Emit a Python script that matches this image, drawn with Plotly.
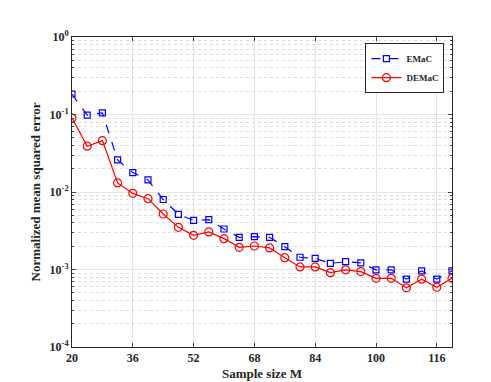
import plotly.graph_objects as go

# Sample sizes and errors
sample_size = list(range(20, 121, 4))
emac = [0.184, 0.098, 0.105, 0.0259, 0.0178, 0.0143, 0.0080, 0.00515, 0.0043, 0.0044,
        0.00333, 0.0026, 0.00265, 0.0026, 0.00197, 0.00144, 0.00139, 0.0012, 0.00126,
        0.00122, 0.00099, 0.00099, 0.00075, 0.00096, 0.00075, 0.00096]
demac = [0.090, 0.039, 0.046, 0.0131, 0.0096, 0.0082, 0.0052, 0.0035, 0.00276, 0.00305,
         0.0025, 0.00193, 0.00201, 0.0019, 0.00142, 0.00108, 0.00108, 0.00091, 0.00099,
         0.00094, 0.00077, 0.00077, 0.00058, 0.00075, 0.00059, 0.00077]
x_ticks = [20, 36, 52, 68, 84, 100, 116]
y_ticks = [1e-4, 1e-3, 1e-2, 1e-1, 1e0]
y_ticktext = ['10<sup>-4</sup>', '10<sup>-3</sup>', '10<sup>-2</sup>', '10<sup>-1</sup>', '10<sup>0</sup>']

serif = 'Liberation Serif, Times New Roman, serif'
ink = '#262626'

fig = go.Figure()
fig.add_trace(go.Scatter(x=sample_size, y=emac, name='EMaC', mode='lines+markers',
                         line=dict(color='#0000ff', width=1.2, dash='dash'),
                         marker=dict(symbol='square-open', size=6, color='#0000ff', line=dict(width=1.2))))
fig.add_trace(go.Scatter(x=sample_size, y=demac, name='DEMaC', mode='lines+markers',
                         line=dict(color='#ff0000', width=1.2),
                         marker=dict(symbol='circle-open', size=8, color='#ff0000', line=dict(width=1.2))))

fig.update_layout(template='simple_white', width=491, height=382,
                  font=dict(family=serif, size=12, color=ink, weight='bold'),
                  margin=dict(l=64, r=47, t=29, b=43),
                  paper_bgcolor='white', plot_bgcolor='white',
                  legend=dict(x=0.98, y=0.98, xanchor='right', yanchor='top',
                              bgcolor='white', bordercolor=ink, borderwidth=1,
                              font=dict(family=serif, size=9, color=ink, weight='bold'),
                              tracegroupgap=0, itemwidth=30))

fig.update_xaxes(range=[20, 120], tickvals=x_ticks, ticks='inside', ticklen=4,
                 showline=True, mirror='ticks', linecolor=ink, linewidth=1,
                 showgrid=True, gridcolor='#e3e3e3', gridwidth=1,
                 tickfont=dict(family=serif, size=12, color=ink, weight='bold'),
                 title=dict(text='Sample size M', standoff=4,
                            font=dict(family=serif, size=13, color=ink, weight='bold')))

fig.update_yaxes(type='log', range=[-4, 0], tickvals=y_ticks, ticktext=y_ticktext,
                 ticks='inside', ticklen=4,
                 showline=True, mirror='ticks', linecolor=ink, linewidth=1,
                 showgrid=True, gridcolor='#e3e3e3', gridwidth=1,
                 minor=dict(ticks='inside', ticklen=2, showgrid=True, gridcolor='#dcdcdc',
                            griddash='dot', gridwidth=1, dtick='D1'),
                 tickfont=dict(family=serif, size=12, color=ink, weight='bold'),
                 title=dict(text='Normalized mean squared error', standoff=6,
                            font=dict(family=serif, size=13, color=ink, weight='bold')))

fig.write_html('out.html')
